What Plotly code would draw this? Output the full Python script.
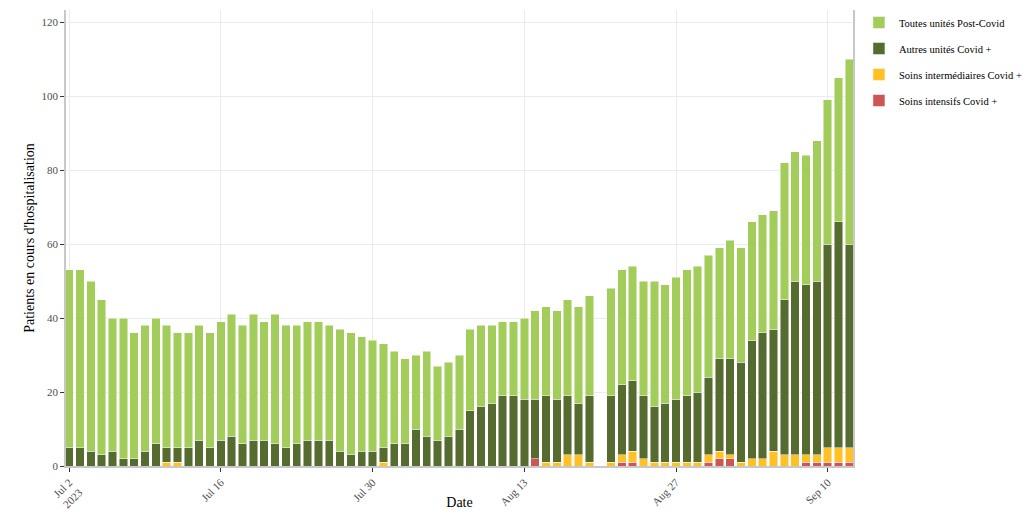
import pandas as pd
import plotly.graph_objects as go

# Dates: Jul 2 2023 -> Sep 12 2023, Aug 20 missing
dates = [d for d in pd.date_range("2023-07-02", "2023-09-12", freq="D") if d != pd.Timestamp("2023-08-20")]

post_covid = [48, 48, 46, 42, 36, 38, 34, 34, 34, 33, 31, 31, 31, 31, 32, 33, 32, 34, 32, 35,
              33, 32, 32, 32, 31, 33, 33, 31, 30, 28, 25, 23, 20, 23, 20, 20, 20, 22, 22, 21,
              20, 20, 22, 24, 24, 24, 26, 26, 27,
              29, 31, 31, 31, 34, 32, 33, 34, 34, 33, 30, 32, 31, 32, 32, 32, 37, 35, 35, 38,
              39, 39, 50]
autres = [5, 5, 4, 3, 4, 2, 2, 4, 6, 4, 4, 5, 7, 5, 7, 8, 6, 7, 7, 6,
          5, 6, 7, 7, 7, 4, 3, 4, 4, 4, 6, 6, 10, 8, 7, 8, 10, 15, 16, 17,
          19, 19, 18, 16, 18, 17, 16, 14, 18,
          18, 19, 19, 17, 15, 16, 17, 18, 19, 21, 25, 26, 27, 32, 34, 33, 42, 47, 46, 47,
          55, 61, 55]
intermediaires = [0, 0, 0, 0, 0, 0, 0, 0, 0, 1, 1, 0, 0, 0, 0, 0, 0, 0, 0, 0,
                  0, 0, 0, 0, 0, 0, 0, 0, 0, 1, 0, 0, 0, 0, 0, 0, 0, 0, 0, 0,
                  0, 0, 0, 0, 1, 1, 3, 3, 1,
                  1, 2, 3, 2, 1, 1, 1, 1, 1, 2, 2, 1, 1, 2, 2, 4, 3, 3, 2, 2,
                  4, 4, 4]
intensifs = [0, 0, 0, 0, 0, 0, 0, 0, 0, 0, 0, 0, 0, 0, 0, 0, 0, 0, 0, 0,
             0, 0, 0, 0, 0, 0, 0, 0, 0, 0, 0, 0, 0, 0, 0, 0, 0, 0, 0, 0,
             0, 0, 0, 2, 0, 0, 0, 0, 0,
             0, 1, 1, 0, 0, 0, 0, 0, 0, 1, 2, 2, 0, 0, 0, 0, 0, 0, 1, 1,
             1, 1, 1]

series = [
    ("Soins intensifs Covid +", intensifs, "#CD5555", 4),
    ("Soins intermédiaires Covid +", intermediaires, "#FFC125", 3),
    ("Autres unités Covid +", autres, "#556B2F", 2),
    ("Toutes unités Post-Covid", post_covid, "#A2CD5A", 1),
]

fig = go.Figure()
for name, vals, col, rank in series:
    fig.add_trace(go.Bar(
        x=dates, y=vals, name=name, legendgroup=name, legendrank=rank,
        marker=dict(color=col, line=dict(color="rgba(255,255,255,0.6)", width=0.8)),
    ))

serif = "Liberation Serif, Times New Roman, serif"
fig.update_layout(
    barmode="stack",
    bargap=0.22,
    width=1024, height=502,
    margin=dict(l=58, r=179, t=2, b=44),
    plot_bgcolor="white", paper_bgcolor="white",
    font=dict(family=serif, size=12, color="black"),
    legend=dict(xref="container", x=0.831, y=1.014, xanchor="left", yanchor="top",
                traceorder="grouped", tracegroupgap=7, bgcolor="rgba(0,0,0,0)",
                font=dict(family=serif, size=10.5, color="black")),
    xaxis=dict(
        title=dict(text="Date", font=dict(family=serif, size=14, color="black"), standoff=6),
        range=["2023-07-01 17:00", "2023-09-12 08:00"],
        tick0="2023-07-02", dtick=14 * 86400000,
        tickangle=-45, tickfont=dict(family=serif, size=11, color="#4d4d4d"),
        showgrid=True, gridcolor="#ebebeb", gridwidth=1,
        showline=True, linecolor="#c8c8c8", linewidth=1.5,
        ticks="outside", ticklen=4, tickcolor="#333333",
        zeroline=False, automargin=False,
    ),
    yaxis=dict(
        title=dict(text="Patients en cours d'hospitalisation", font=dict(family=serif, size=14, color="black"), standoff=4),
        range=[0, 123.3],
        tick0=0, dtick=20,
        tickfont=dict(family=serif, size=11, color="#4d4d4d"),
        showgrid=True, gridcolor="#ebebeb", gridwidth=1,
        showline=True, linecolor="#c8c8c8", linewidth=1.5, mirror=True,
        ticks="outside", ticklen=4, tickcolor="#333333",
        zeroline=False, automargin=False,
    ),
)

fig.write_html("out.html")
